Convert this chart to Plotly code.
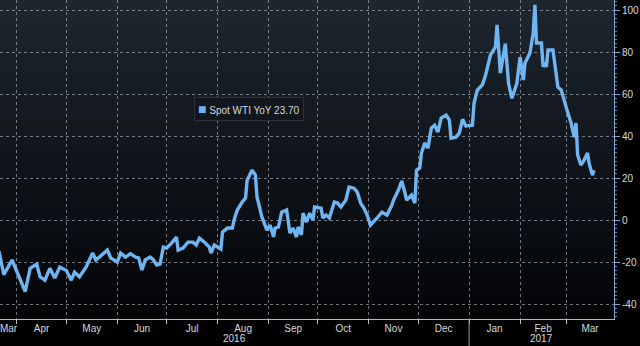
import plotly.graph_objects as go
import pandas as pd

# Spot WTI crude, year-on-year % change
series_name = "Spot WTI YoY"
last_value = 23.70

dates = [
    "2016-03-21", "2016-03-24", "2016-03-29", "2016-03-31",
    "2016-04-06", "2016-04-09", "2016-04-13", "2016-04-15", "2016-04-18", "2016-04-21", "2016-04-24", "2016-04-27",
    "2016-05-01", "2016-05-04", "2016-05-06", "2016-05-09", "2016-05-13", "2016-05-17", "2016-05-19", "2016-05-26", "2016-05-28",
    "2016-06-01", "2016-06-03", "2016-06-06", "2016-06-09", "2016-06-12", "2016-06-14", "2016-06-16", "2016-06-18", "2016-06-21",
    "2016-06-23", "2016-06-25", "2016-06-27", "2016-06-29",
    "2016-07-01", "2016-07-04", "2016-07-07", "2016-07-08", "2016-07-11", "2016-07-14", "2016-07-17", "2016-07-19", "2016-07-21",
    "2016-07-24", "2016-07-27", "2016-07-28", "2016-07-30",
    "2016-08-03", "2016-08-04", "2016-08-07", "2016-08-10", "2016-08-11", "2016-08-13", "2016-08-16", "2016-08-18", "2016-08-19",
    "2016-08-22", "2016-08-24", "2016-08-25", "2016-08-28", "2016-08-31",
    "2016-09-02", "2016-09-04", "2016-09-05", "2016-09-07", "2016-09-09", "2016-09-12", "2016-09-14", "2016-09-16", "2016-09-18",
    "2016-09-19", "2016-09-21", "2016-09-22", "2016-09-24", "2016-09-26", "2016-09-28", "2016-09-29",
    "2016-10-03", "2016-10-04", "2016-10-06", "2016-10-08", "2016-10-11", "2016-10-13", "2016-10-15", "2016-10-18", "2016-10-20",
    "2016-10-23", "2016-10-25", "2016-10-27", "2016-10-29", "2016-10-31",
    "2016-11-02", "2016-11-03", "2016-11-06", "2016-11-09", "2016-11-12", "2016-11-15", "2016-11-16", "2016-11-19", "2016-11-21",
    "2016-11-23", "2016-11-24", "2016-11-27", "2016-11-29", "2016-11-30",
    "2016-12-02", "2016-12-03", "2016-12-05", "2016-12-07", "2016-12-09", "2016-12-11", "2016-12-13", "2016-12-15", "2016-12-18",
    "2016-12-20", "2016-12-21", "2016-12-24", "2016-12-26", "2016-12-28", "2016-12-30",
    "2017-01-03", "2017-01-04", "2017-01-06", "2017-01-09", "2017-01-11", "2017-01-12", "2017-01-14", "2017-01-17", "2017-01-18",
    "2017-01-20", "2017-01-23", "2017-01-25", "2017-01-27", "2017-01-30",
    "2017-02-01", "2017-02-03", "2017-02-04", "2017-02-07", "2017-02-09", "2017-02-10", "2017-02-11", "2017-02-14", "2017-02-15",
    "2017-02-16", "2017-02-17", "2017-02-18", "2017-02-21", "2017-02-24", "2017-02-26",
    "2017-03-01", "2017-03-04", "2017-03-06", "2017-03-07", "2017-03-08", "2017-03-10", "2017-03-12", "2017-03-14", "2017-03-15",
    "2017-03-17", "2017-03-18",
]

values = [
    -14.8, -26.0, -19.0, -23.0,
    -34.0, -23.0, -21.0, -27.0, -28.6, -23.0, -27.6, -22.4,
    -24.0, -28.6, -24.8, -27.0, -22.4, -15.7, -19.0, -14.3, -18.0,
    -20.0, -15.7, -17.6, -16.0, -17.6, -18.0, -23.8, -19.0, -17.6,
    -19.0, -21.4, -21.0, -12.9,
    -13.3, -11.0, -8.1, -14.3, -13.3, -10.5, -10.5, -11.9, -8.6,
    -10.5, -12.9, -15.7, -11.9,
    -13.8, -5.7, -3.8, -3.8, 0.0, 4.8, 8.6, 10.5, 19.0,
    23.8, 21.4, 11.0, 1.4, -4.8,
    -2.4, -8.0, -3.8, -3.3, 3.8, 4.8, -6.2, -3.8, -8.1,
    -3.3, -7.0, 3.3, -1.0, 3.3, 0.0, 6.2,
    5.7, 1.0, 2.4, 1.0, 8.6, 8.1, 6.2, 9.5, 15.7,
    15.2, 13.3, 8.1, 5.7, 2.4,
    -2.4, -1.4, 1.0, 3.8, 2.4, 7.1, 9.5, 14.3, 18.6,
    12.9, 9.5, 11.9, 8.1, 23.8,
    24.8, 31.9, 36.7, 34.3, 43.8, 45.2, 41.9, 48.6, 50.0,
    47.6, 39.0, 39.5, 41.4, 48.0, 44.8,
    45.2, 55.7, 61.9, 64.3, 69.0, 72.4, 78.6, 82.4, 93.0,
    70.0, 84.0, 65.0, 58.0, 65.0,
    77.6, 66.7, 74.8, 79.5, 89.0, 102.5, 84.3, 84.3, 72.9,
    75.0, 73.0, 81.0, 81.0, 63.3, 62.0,
    53.8, 46.2, 39.5, 46.2, 31.0, 26.2, 28.6, 31.9, 27.0,
    21.4, 23.7,
]

y_ticks = [-40, -20, 0, 20, 40, 60, 80, 100]
y_tick_text = ["-40", "-20", "0", "20", "40", "60", "80", "100"]

# visible window
x_start = pd.Timestamp("2016-03-21 16:00")
x_end = pd.Timestamp("2017-03-30 03:00")
y_range = [-47.1, 104.8]

LINE = "#6fb5f2"
TEXT = "#d6d9dd"
GRID = "rgba(185,190,198,0.6)"
AXIS_FONT = "Liberation Sans Narrow, Liberation Sans, Arial, sans-serif"

# month boundaries (grid) and centred month labels over the visible part
month_starts = pd.date_range("2016-03-01", "2017-04-01", freq="MS")
grid_vals = [m for m in month_starts if x_start < m < x_end]
label_vals, label_text = [], []
for a, b in zip(month_starts[:-1], month_starts[1:]):
    lo, hi = max(a, x_start), min(b, x_end)
    if hi > lo:
        label_vals.append(lo + (hi - lo) / 2)
        label_text.append(a.strftime("%b"))

# year labels centred over each year's visible span
year_marks = []
for yr in (2016, 2017):
    lo = max(pd.Timestamp(f"{yr}-01-01"), x_start)
    hi = min(pd.Timestamp(f"{yr + 1}-01-01"), x_end)
    year_marks.append((lo + (hi - lo) / 2, str(yr)))

fig = go.Figure()
fig.add_trace(go.Scatter(
    x=pd.to_datetime(dates), y=values, mode="lines", name=series_name,
    line=dict(color=LINE, width=3.4), hoverinfo="x+y",
))

# vertical background gradient in the plot area
top = (30, 38, 48)
bottom = (3, 4, 6)
n_bands = 48
shapes = []
for i in range(n_bands):
    t = i / (n_bands - 1)
    c = tuple(round(bottom[k] + (top[k] - bottom[k]) * t) for k in range(3))
    shapes.append(dict(
        type="rect", xref="paper", yref="paper", x0=0, x1=1,
        y0=i / n_bands, y1=(i + 1) / n_bands + 0.002,
        fillcolor=f"rgb{c}", line=dict(width=0), layer="below",
    ))

# divider between the two years below the axis
shapes.append(dict(
    type="line", xref="x", yref="paper", x0="2017-01-01", x1="2017-01-01",
    y0=0, y1=-0.085, line=dict(color="#9a9a9a", width=1),
))

annotations = [
    dict(x=d, y=0, xref="x", yref="paper", text=t, showarrow=False,
         yanchor="top", yshift=-12, font=dict(family=AXIS_FONT, size=10, color=TEXT))
    for d, t in year_marks
]
annotations.append(dict(
    x=0.405, y=0.696, xref="paper", yref="paper", showarrow=False,
    text=(f'<span style="color:{LINE};font-size:14px">■</span>'
          f' {series_name} {last_value:.2f}'),
    font=dict(family="Liberation Sans, Arial, sans-serif", size=10, color=TEXT),
    bgcolor="#12171d", bordercolor="#2c333b", borderwidth=1, borderpad=3,
))

fig.update_layout(
    width=640, height=346,
    margin=dict(l=0, r=26, t=0, b=27),
    paper_bgcolor="#000000",
    plot_bgcolor="rgba(0,0,0,0)",
    showlegend=False,
    shapes=shapes,
    annotations=annotations,
    xaxis=dict(
        type="date", range=[x_start, x_end],
        tickmode="array", tickvals=label_vals, ticktext=label_text,
        ticks="", showgrid=False, zeroline=False,
        ticklabeloverflow="allow",
        showline=True, linecolor="#b8b8b8", linewidth=1,
        tickfont=dict(family=AXIS_FONT, size=10, color=TEXT),
        minor=dict(tickmode="array", tickvals=grid_vals, ticks="outside", ticklen=4,
                   tickcolor="#b8b8b8", showgrid=True, gridcolor=GRID, griddash="dot",
                   gridwidth=1),
    ),
    yaxis=dict(
        side="right", range=y_range,
        tickmode="array", tickvals=y_ticks, ticktext=y_tick_text,
        ticks="outside", ticklen=5, tickcolor="#7fa6cf",
        showline=True, linecolor="#7fa6cf", linewidth=1,
        showgrid=True, gridcolor=GRID, griddash="dot", gridwidth=1,
        zeroline=False,
        tickfont=dict(family=AXIS_FONT, size=10, color=TEXT),
        minor=dict(tickmode="linear", tick0=0, dtick=2, ticks="outside", ticklen=2,
                   tickcolor="#5f7f9f", showgrid=False),
    ),
)

fig.write_html("out.html")
